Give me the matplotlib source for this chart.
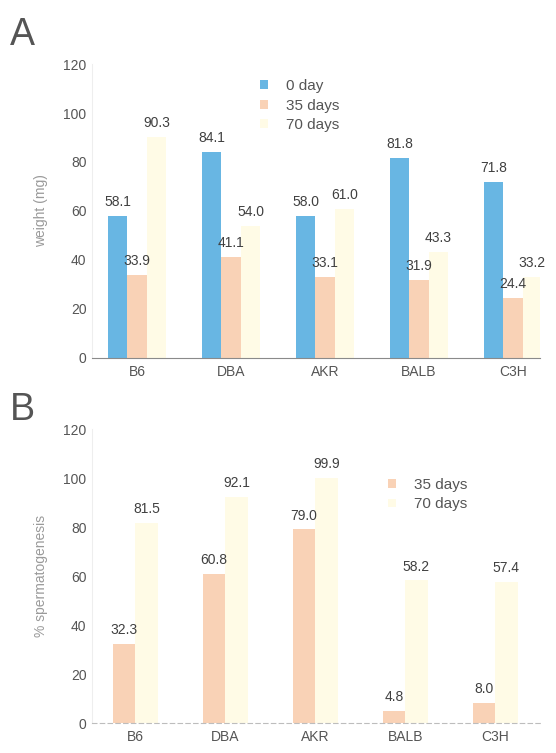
import numpy as np
import matplotlib
matplotlib.use("Agg")
import matplotlib.pyplot as plt

plt.rcParams['font.family'] = ['Liberation Sans', 'DejaVu Sans']

strains = ['B6', 'DBA', 'AKR', 'BALB', 'C3H']

# panel A: testis weight (mg)
weight_0d = [58.1, 84.1, 58.0, 81.8, 71.8]
weight_35d = [33.9, 41.1, 33.1, 31.9, 24.4]
weight_70d = [90.3, 54.0, 61.0, 43.3, 33.2]

# panel B: % spermatogenesis
sperm_35d = [32.3, 60.8, 79.0, 4.8, 8.0]
sperm_70d = [81.5, 92.1, 99.9, 58.2, 57.4]

yticks = [0, 20, 40, 60, 80, 100, 120]

c_blue = '#68b6e3'
c_salmon = '#f9d2b6'
c_yellow = '#fffbe6'
txt = '#404040'


def style_axes(ax, ylabel):
    ax.set_xlim(-0.48, 4.29)
    ax.set_ylim(0, 120)
    ax.set_yticks(yticks)
    ax.set_xticks(np.arange(len(strains)))
    ax.set_xticklabels(strains)
    ax.tick_params(length=0, labelsize=10, labelcolor='#555555')
    ax.tick_params(axis='y', pad=4)
    ax.tick_params(axis='x', pad=5)
    for s in ['top', 'right']:
        ax.spines[s].set_visible(False)
    ax.spines['left'].set_color('#eeeeee')
    ax.spines['bottom'].set_color('#8a8a8a')
    ax.spines['bottom'].set_linewidth(0.8)
    ax.set_ylabel(ylabel, fontsize=10, color='#9a9a9a')
    ax.yaxis.set_label_coords(-0.098, 0.5)


def label_bars(ax, bars, vals):
    for b, v in zip(bars, vals):
        ax.annotate(f"{v:.1f}", (b.get_x() + b.get_width() / 2, v),
                    xytext=(0, 5), textcoords='offset points',
                    ha='center', va='bottom', fontsize=10, color=txt)


fig = plt.figure(figsize=(5.56, 7.53), dpi=100)

# ---- A ----
axA = fig.add_axes([0.1655, 0.5246, 0.806, 0.3904])
x = np.arange(len(strains))
w = 0.207
b0 = axA.bar(x - w, weight_0d, w, color=c_blue, label='0 day')
b35 = axA.bar(x, weight_35d, w, color=c_salmon, label='35 days')
b70 = axA.bar(x + w, weight_70d, w, color=c_yellow, label='70 days')
for bars, vals in [(b0, weight_0d), (b35, weight_35d), (b70, weight_70d)]:
    label_bars(axA, bars, vals)
style_axes(axA, 'weight (mg)')
legA = axA.legend(loc='upper left', bbox_to_anchor=(0.345, 0.995), frameon=False,
                  fontsize=11, handlelength=0.5, handleheight=0.5,
                  handletextpad=1.2, labelspacing=0.35)
for t in legA.get_texts():
    t.set_color('#555555')

# ---- B ----
axB = fig.add_axes([0.1655, 0.0398, 0.806, 0.3904])
wb = 0.25
s35 = axB.bar(x - wb / 2, sperm_35d, wb, color=c_salmon, label='35 days')
s70 = axB.bar(x + wb / 2, sperm_70d, wb, color=c_yellow, label='70 days')
label_bars(axB, s35, sperm_35d)
label_bars(axB, s70, sperm_70d)
style_axes(axB, '% spermatogenesis')
axB.spines['bottom'].set_linestyle((0, (4, 3)))
axB.spines['bottom'].set_color('#bdbdbd')
axB.set_xlim(-0.48, 4.5)
legB = axB.legend(loc='upper left', bbox_to_anchor=(0.63, 0.88), frameon=False,
                  fontsize=11, handlelength=0.5, handleheight=0.5,
                  handletextpad=1.2, labelspacing=0.35)
for t in legB.get_texts():
    t.set_color('#555555')

fig.text(0.018, 0.978, 'A', fontsize=27, color='#555555', va='top', ha='left')
fig.text(0.018, 0.479, 'B', fontsize=27, color='#555555', va='top', ha='left')

fig.savefig('out.png', dpi=100, facecolor='white')
